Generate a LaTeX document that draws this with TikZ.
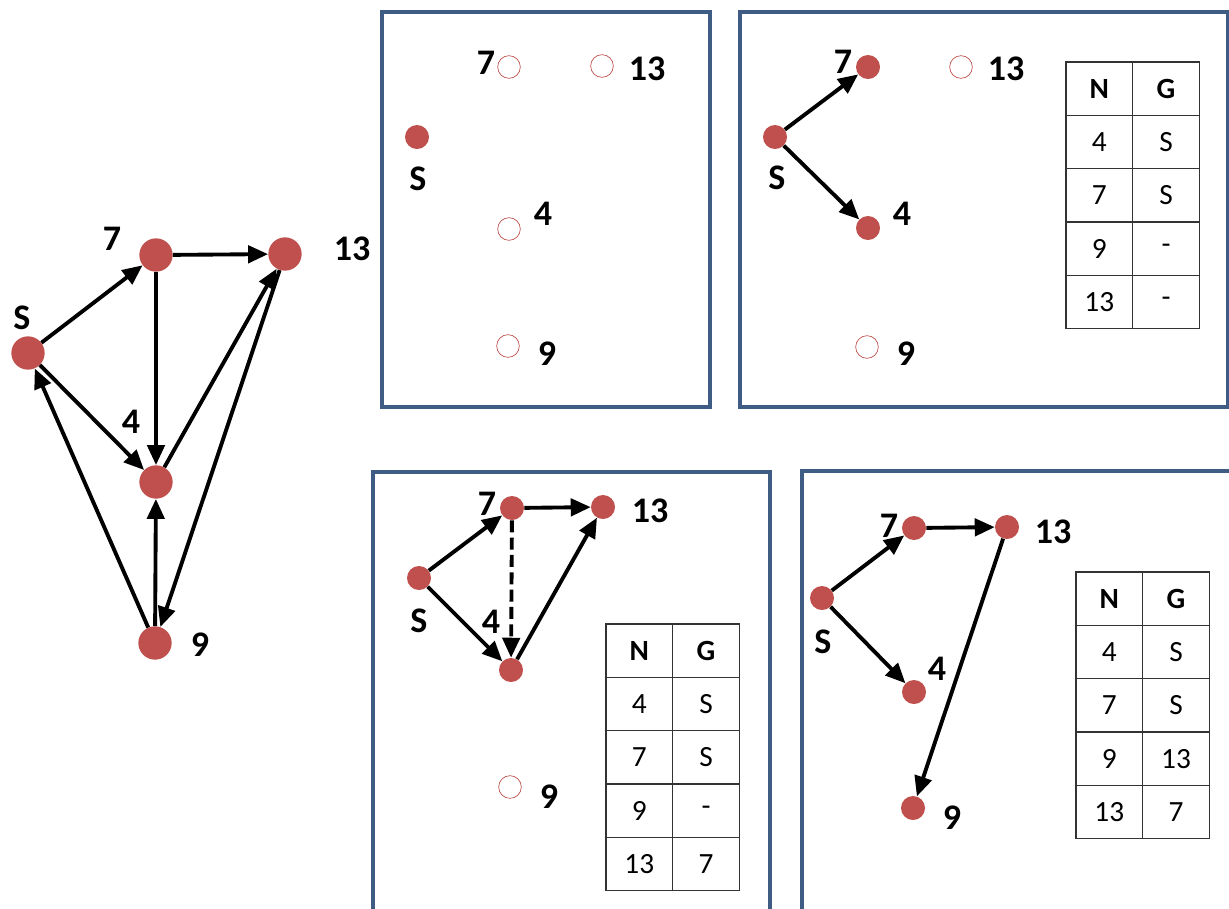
\documentclass[tikz,border=0pt]{standalone}
\usepackage{fontspec}
\setmainfont{Carlito}
\usetikzlibrary{arrows.meta,positioning}
\definecolor{nodered}{HTML}{C0504D}
\definecolor{panelblue}{HTML}{3E5C84}

\begin{document}
\begin{tikzpicture}[
    x=0.75pt, y=-0.75pt,
    vtx/.style={circle, fill=nodered, minimum size=25pt, inner sep=0pt},
    vdot/.style={circle, fill=nodered, minimum size=18pt, inner sep=0pt},
    hole/.style={circle, draw=nodered, line width=0.5pt, fill=white, minimum size=17pt, inner sep=0pt},
    lbl/.style={font=\fontsize{27}{30}\selectfont\bfseries, inner sep=0pt},
    panel/.style={draw=panelblue, line width=3pt},
    conn/.style={-{Triangle[length=15pt,width=13pt]}, line width=2.9pt},
    cell/.style={draw=black!80, line width=0.9pt, minimum width=50pt, minimum height=40pt, inner sep=0pt, outer sep=0pt, font=\fontsize{22}{26}\selectfont},
    hdr/.style={font=\fontsize{22}{26}\selectfont\bfseries}
]
    \clip (0,0) rectangle (1229,908);
    \fill[white] (0,0) rectangle (1229,908);

    % Full graph
    \node[vtx] (a-s) at (28,353) {};
    \node[vtx] (a-7) at (156,255) {};
    \node[vtx] (a-13) at (285,254) {};
    \node[vtx] (a-4) at (156,482) {};
    \node[vtx] (a-9) at (155,643) {};
    \node[lbl] (a-s-l) at (22,318) {S};
    \node[lbl] (a-7-l) at (112,239) {7};
    \node[lbl] (a-13-l) at (352,249) {13};
    \node[lbl] (a-4-l) at (131,422) {4};
    \node[lbl] (a-9-l) at (200,645) {9};
    \draw[conn] (a-s) -- (a-7);
    \draw[conn] (a-7) -- (a-13);
    \draw[conn] (a-7) -- (a-4);
    \draw[conn] (a-s) -- (a-4);
    \draw[conn] (a-4) -- (a-13);
    \draw[conn] (a-13) -- (a-9);
    \draw[conn] (a-9) -- (a-4);
    \draw[conn] (a-9) -- (a-s);

    % Step 1: start
    \draw[panel] (382,12) rectangle (710,407);
    \node[vdot] (b-s) at (417,137) {};
    \node[hole] (b-7) at (509,67) {};
    \node[hole] (b-13) at (602,66) {};
    \node[hole] (b-4) at (509,229) {};
    \node[hole] (b-9) at (508,346) {};
    \node[lbl] (b-s-l) at (418,179) {S};
    \node[lbl] (b-7-l) at (486,63) {7};
    \node[lbl] (b-13-l) at (647,69) {13};
    \node[lbl] (b-4-l) at (543,214) {4};
    \node[lbl] (b-9-l) at (547,354) {9};

    % Step 2: expand S
    \draw[panel] (740,12) rectangle (1228,407);
    \node[vdot] (c-s) at (775,137) {};
    \node[vdot] (c-7) at (868,67) {};
    \node[hole] (c-13) at (961,67) {};
    \node[vdot] (c-4) at (868,228) {};
    \node[hole] (c-9) at (867,347) {};
    \node[lbl] (c-s-l) at (777,178) {S};
    \node[lbl] (c-7-l) at (843,62) {7};
    \node[lbl] (c-13-l) at (1006,69) {13};
    \node[lbl] (c-4-l) at (902,214) {4};
    \node[lbl] (c-9-l) at (906,354) {9};
    \draw[conn] (c-s) -- (c-7);
    \draw[conn] (c-s) -- (c-4);

    % Step 3: expand 7
    \draw[panel] (373,472) rectangle (770,915);
    \node[vdot] (d-s) at (419,578) {};
    \node[vdot] (d-7) at (512,508) {};
    \node[vdot] (d-13) at (603,507) {};
    \node[vdot] (d-4) at (511,670) {};
    \node[hole] (d-9) at (510,787) {};
    \node[lbl] (d-s-l) at (419,621) {S};
    \node[lbl] (d-7-l) at (487,504) {7};
    \node[lbl] (d-13-l) at (650,511) {13};
    \node[lbl] (d-4-l) at (491,622) {4};
    \node[lbl] (d-9-l) at (549,797) {9};
    \draw[conn] (d-s) -- (d-7);
    \draw[conn] (d-s) -- (d-4);
    \draw[conn] (d-7) -- (d-13);
    \draw[conn] (d-4) -- (d-13);
    \draw[conn, dash pattern=on 9pt off 4pt] (d-7) -- (d-4);

    % Step 4: expand 13
    \draw[panel] (802,471) rectangle (1240,915);
    \node[vdot] (e-s) at (822,598) {};
    \node[vdot] (e-7) at (914,528) {};
    \node[vdot] (e-13) at (1007,527) {};
    \node[vdot] (e-4) at (914,692) {};
    \node[vdot] (e-9) at (913,808) {};
    \node[lbl] (e-s-l) at (823,642) {S};
    \node[lbl] (e-7-l) at (889,526) {7};
    \node[lbl] (e-13-l) at (1053,532) {13};
    \node[lbl] (e-4-l) at (937,669) {4};
    \node[lbl] (e-9-l) at (952,818) {9};
    \draw[conn] (e-s) -- (e-7);
    \draw[conn] (e-s) -- (e-4);
    \draw[conn] (e-7) -- (e-13);
    \draw[conn] (e-13) -- (e-9);

    % Tables N / G
    \foreach \tn/\tx/\ty/\gb/\gc in {c/1066/62/-/-, d/606/624/-/7, e/1076/572/13/7} {
        \node[cell, hdr, anchor=north west] (\tn-0-1) at (\tx,\ty) {N};
        \node[cell, hdr, right=0pt of \tn-0-1] (\tn-0-2) {G};
        \foreach \n/\g [count=\i] in {4/S, 7/S, 9/\gb, 13/\gc} {
            \pgfmathtruncatemacro{\prev}{\i-1}
            \node[cell, below=0pt of \tn-\prev-1] (\tn-\i-1) {\n};
            \node[cell, right=0pt of \tn-\i-1] (\tn-\i-2) {\g};
        }
    }
\end{tikzpicture}
\end{document}
